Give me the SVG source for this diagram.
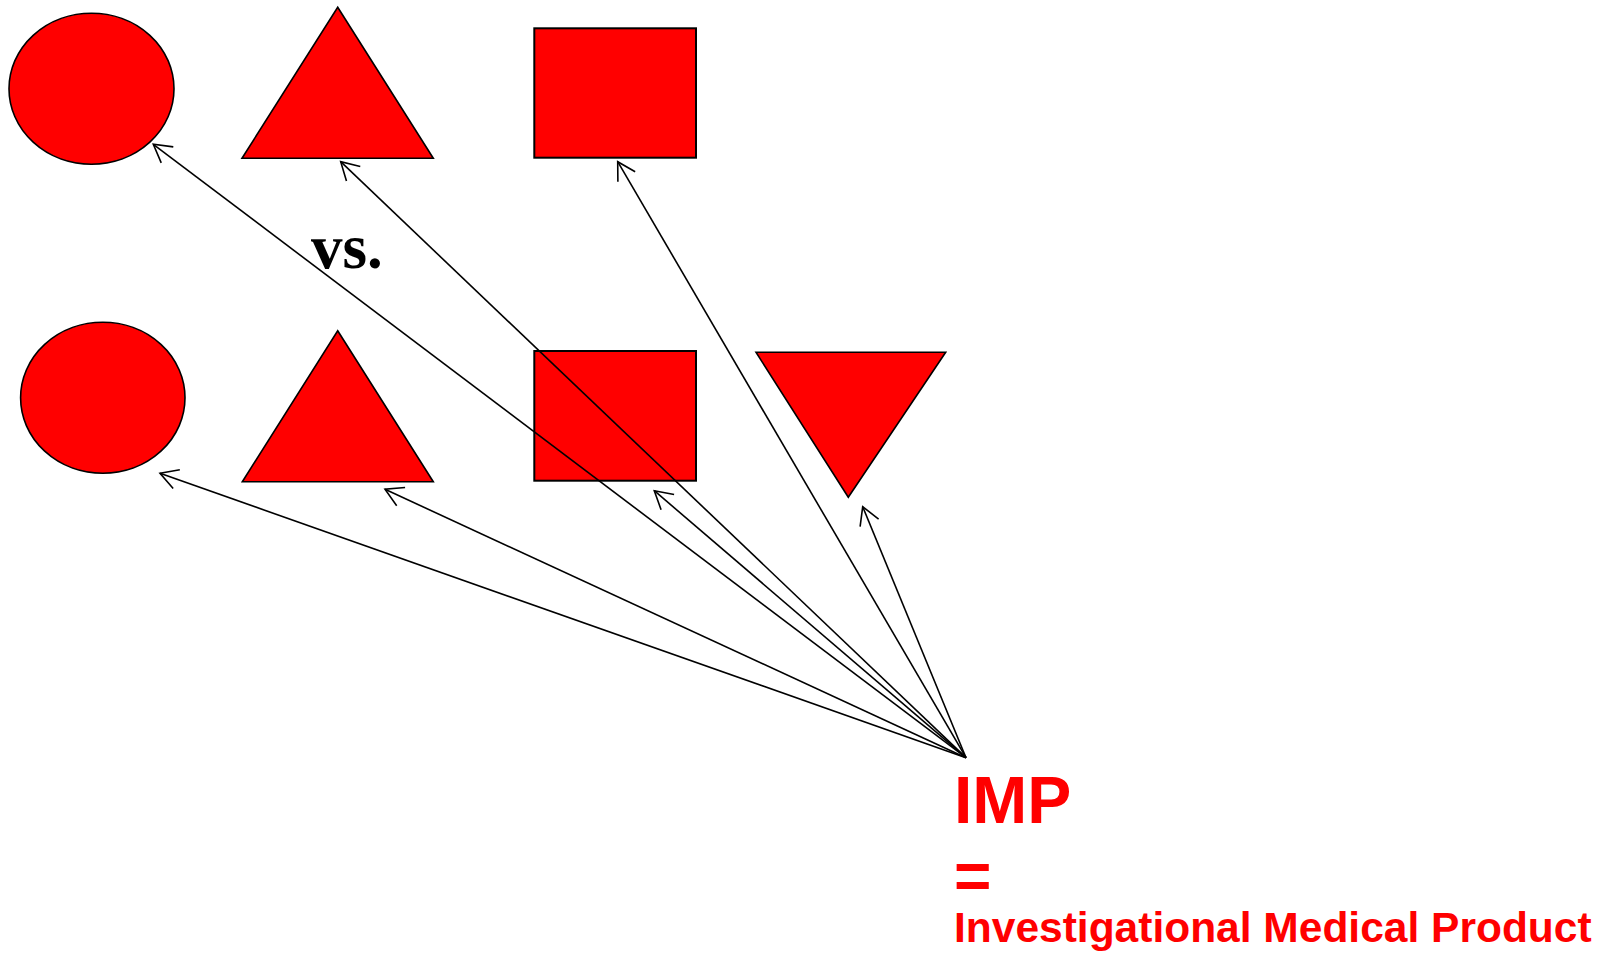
<svg xmlns="http://www.w3.org/2000/svg" width="1615" height="953" viewBox="0 0 1615 953">
  <style>
    .shape { fill: #ff0000; stroke: #000000; stroke-width: 1.6; }
    .box { fill: #ff0000; stroke: #000000; stroke-width: 2; }
    .link { fill: none; stroke: #000000; stroke-width: 1.6; marker-end: url(#open-arrow); }
    .vs { font-family: "Liberation Serif", "Times New Roman", serif; font-weight: bold; font-size: 63px; fill: #000000; }
    .imp { font-family: "Liberation Sans", Arial, sans-serif; font-weight: bold; fill: #ff0000; }
  </style>
  <defs>
    <marker id="open-arrow" markerUnits="userSpaceOnUse" markerWidth="30" markerHeight="30" viewBox="-25 -15 30 30" refX="0" refY="0" orient="auto">
      <path d="M-17.5,-10 L0,0 L-17.5,10" fill="none" stroke="#000000" stroke-width="1.6"/>
    </marker>
  </defs>

  <rect width="1615" height="953" fill="#ffffff"/>

  <!-- upper row -->
  <g id="circle-a">
    <ellipse class="shape" cx="91.5" cy="88.7" rx="82.5" ry="75.5"/>
  </g>
  <g id="triangle-a">
    <polygon class="shape" points="337.7,7.3 433.3,158.3 242,158.3"/>
  </g>
  <g id="square-a">
    <rect class="box" x="534.3" y="28.3" width="161.7" height="129.4"/>
  </g>

  <g id="vs-label">
    <text class="vs" x="311" y="268">vs.</text>
  </g>

  <!-- lower row -->
  <g id="circle-b">
    <ellipse class="shape" cx="102.8" cy="397.8" rx="82.2" ry="75.5"/>
  </g>
  <g id="triangle-b">
    <polygon class="shape" points="337.7,330.7 433.3,481.7 242.3,481.7"/>
  </g>
  <g id="square-b">
    <rect class="box" x="534.3" y="351" width="161.7" height="129.7"/>
  </g>
  <g id="triangle-down">
    <polygon class="shape" points="756,352.3 945.7,352.3 848.3,497.3"/>
  </g>

  <!-- connectors fanning out from the IMP label -->
  <g id="connectors">
    <path class="link" d="M966,757.7 L153.3,144.3"/>
    <path class="link" d="M966,757.7 L340.7,161.7"/>
    <path class="link" d="M966,757.7 L617.7,161.7"/>
    <path class="link" d="M966,757.7 L160,473.3"/>
    <path class="link" d="M966,757.7 L385,489.3"/>
    <path class="link" d="M966,757.7 L654.3,490.7"/>
    <path class="link" d="M966,757.7 L862.7,506.7"/>
  </g>

  <g id="imp-label">
    <text class="imp" x="954" y="823.3" font-size="66">IMP</text>
    <text class="imp" x="954" y="898" font-size="64">=</text>
    <text class="imp" x="954" y="941.7" font-size="42.5">Investigational Medical Product</text>
  </g>
</svg>
